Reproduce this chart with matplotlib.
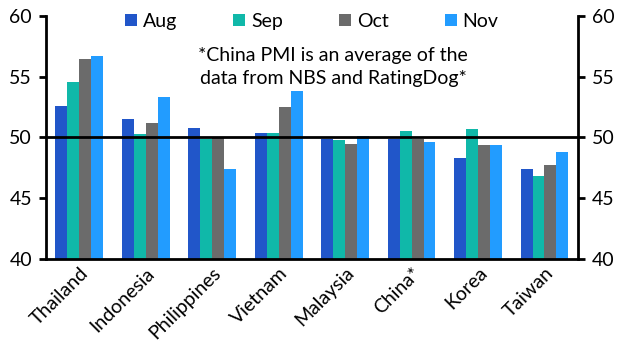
import matplotlib
matplotlib.use("Agg")
import matplotlib.pyplot as plt
import numpy as np

plt.rcParams['font.family'] = ['Lato', 'DejaVu Sans']

countries = ["Thailand", "Indonesia", "Philippines", "Vietnam", "Malaysia", "China*", "Korea", "Taiwan"]
aug = [52.6, 51.5, 50.8, 50.4, 49.9, 49.9, 48.3, 47.4]
sep = [54.6, 50.3, 49.9, 50.4, 49.8, 50.5, 50.7, 46.8]
oct_ = [56.5, 51.2, 50.0, 52.5, 49.5, 49.9, 49.4, 47.7]
nov = [56.7, 53.3, 47.4, 53.8, 50.1, 49.6, 49.4, 48.8]
series = [("Aug", aug, "#2156c9"), ("Sep", sep, "#10b8a9"), ("Oct", oct_, "#6b6b6b"), ("Nov", nov, "#229cff")]

fig = plt.figure(figsize=(6.3, 3.59), dpi=100)
ax = fig.add_axes([0.073, 0.279, 0.844, 0.676])
x = np.arange(len(countries))
w = 0.18
for i, (name, vals, col) in enumerate(series):
    ax.bar(x + (i - 1.5) * w, np.array(vals) - 40, bottom=40, width=w, color=col, label=name, zorder=2)

ax.axhline(50, color="black", lw=2, zorder=3)
ax.set_ylim(40, 60)
ax.set_xlim(-0.5, len(countries) - 0.5)
ax.set_yticks([40, 45, 50, 55, 60])
ax.tick_params(axis='y', which='both', right=True, labelright=True, direction='out', length=5, width=2, labelsize=14, pad=5)
ax.tick_params(axis='x', length=0, labelsize=14, pad=4)
ax.set_xticks(x)
ax.set_xticklabels(countries, rotation=45, ha='right', rotation_mode='anchor')
for s in ['left', 'right', 'bottom']:
    ax.spines[s].set_linewidth(2)
ax.spines['top'].set_visible(False)

ax.legend(loc='upper center', bbox_to_anchor=(0.5, 1.085), ncol=4, frameon=False, fontsize=14,
          handlelength=0.6, handleheight=0.6, handletextpad=0.3, columnspacing=2.9)
ax.text(0.54, 0.79, "*China PMI is an average of the\ndata from NBS and RatingDog*", transform=ax.transAxes,
        ha='center', va='center', fontsize=14, linespacing=1.45)

fig.savefig("out.png", dpi=100)
